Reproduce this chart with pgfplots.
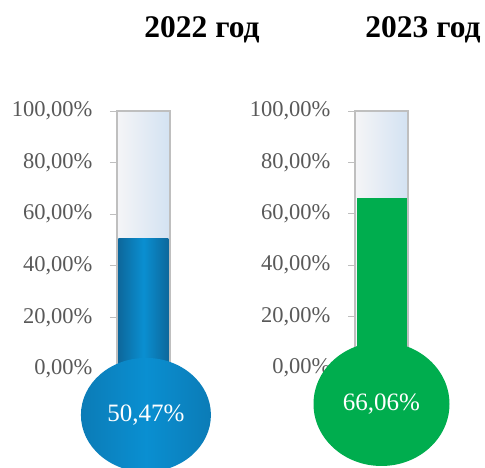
\documentclass[border=0pt]{standalone}
\usepackage{fontspec}
\setmainfont{Liberation Serif}
\usepackage{pgfplots}
\pgfplotsset{compat=1.18}
\definecolor{tickgray}{HTML}{595959}
\definecolor{linegray}{HTML}{BFBFBF}
\definecolor{tubeL}{HTML}{F5F5F7}
\definecolor{tubeR}{HTML}{D3E2F2}
\definecolor{bdark}{HTML}{0D689C}
\definecolor{blight}{HTML}{0A8FD1}
\definecolor{gfill}{HTML}{00AD4E}
\pgfdeclarehorizontalshading{bulbblue}{100bp}{color(0bp)=(bdark); color(50bp)=(blight); color(100bp)=(bdark)}
\pgfdeclareplotmark{bulbL}{%
  \pgfpathellipse{\pgfpointorigin}{\pgfpoint{65pt}{0pt}}{\pgfpoint{0pt}{57pt}}%
  \pgfshadepath{bulbblue}{0}%
  \pgfusepath{discard}}
\pgfdeclareplotmark{bulbR}{%
  \pgfpathellipse{\pgfpointorigin}{\pgfpoint{68pt}{0pt}}{\pgfpoint{0pt}{62pt}}%
  \pgfsetfillcolor{gfill}%
  \pgfusepath{fill}}
\pgfplotsset{
  thermo/.style={
    scale only axis, width=55pt,
    xmin=-0.5, xmax=0.5, ymin=0, ymax=100,
    clip=false,
    axis x line=none, axis y line*=left,
    y axis line style={draw=none},
    ytick={0,20,...,100},
    yticklabels={{0,00\%},{20,00\%},{40,00\%},{60,00\%},{80,00\%},{100,00\%}},
    tick align=outside, major tick length=6pt,
    ytick style={draw=linegray, line width=1pt},
    yticklabel style={font=\fontsize{22.5}{26}\selectfont, text=tickgray, xshift=-14pt},
    title style={font=\fontsize{31.5}{36}\selectfont\bfseries, anchor=base},
  },
  bulblabel/.style={point meta=explicit symbolic, nodes near coords,
    nodes near coords align=center,
    every node near coord/.append style={font=\fontsize{25}{30}\selectfont, text=white, anchor=center}},
}
\begin{document}
\begin{tikzpicture}
\path[use as bounding box] (0pt,0pt) rectangle (485pt,-468pt);
\clip (0pt,0pt) rectangle (485pt,-468pt);
\begin{axis}[thermo,
  at={(116pt,-369pt)}, anchor=south west, height=258pt,
  title={2022 год},
  title style={at={(axis description cs:1.564,1.262)}},
]
\addplot[ybar, bar width=53pt, bar shift=0pt, draw=linegray, line width=2pt, left color=tubeL, right color=tubeR] coordinates {(0,100)};
\addplot[ybar, bar width=50pt, bar shift=0pt, draw=none, left color=bdark, right color=bdark, middle color=blight] coordinates {(0,50.47)};
\addplot[only marks, mark=bulbL, bulblabel] coordinates {(0.044,-17.8) [50{,}47\%]};
\end{axis}
\begin{axis}[thermo,
  at={(354pt,-368pt)}, anchor=south west, height=257pt,
  title={2023 год},
  title style={at={(axis description cs:1.255,1.263)}},
]
\addplot[ybar, bar width=53pt, bar shift=0pt, draw=linegray, line width=2pt, left color=tubeL, right color=tubeR] coordinates {(0,100)};
\addplot[ybar, bar width=50pt, bar shift=0pt, draw=none, fill=gfill] coordinates {(0,66.06)};
\addplot[only marks, mark=bulbR, bulblabel] coordinates {(0,-14.0) [66{,}06\%]};
\end{axis}
\end{tikzpicture}
\end{document}
